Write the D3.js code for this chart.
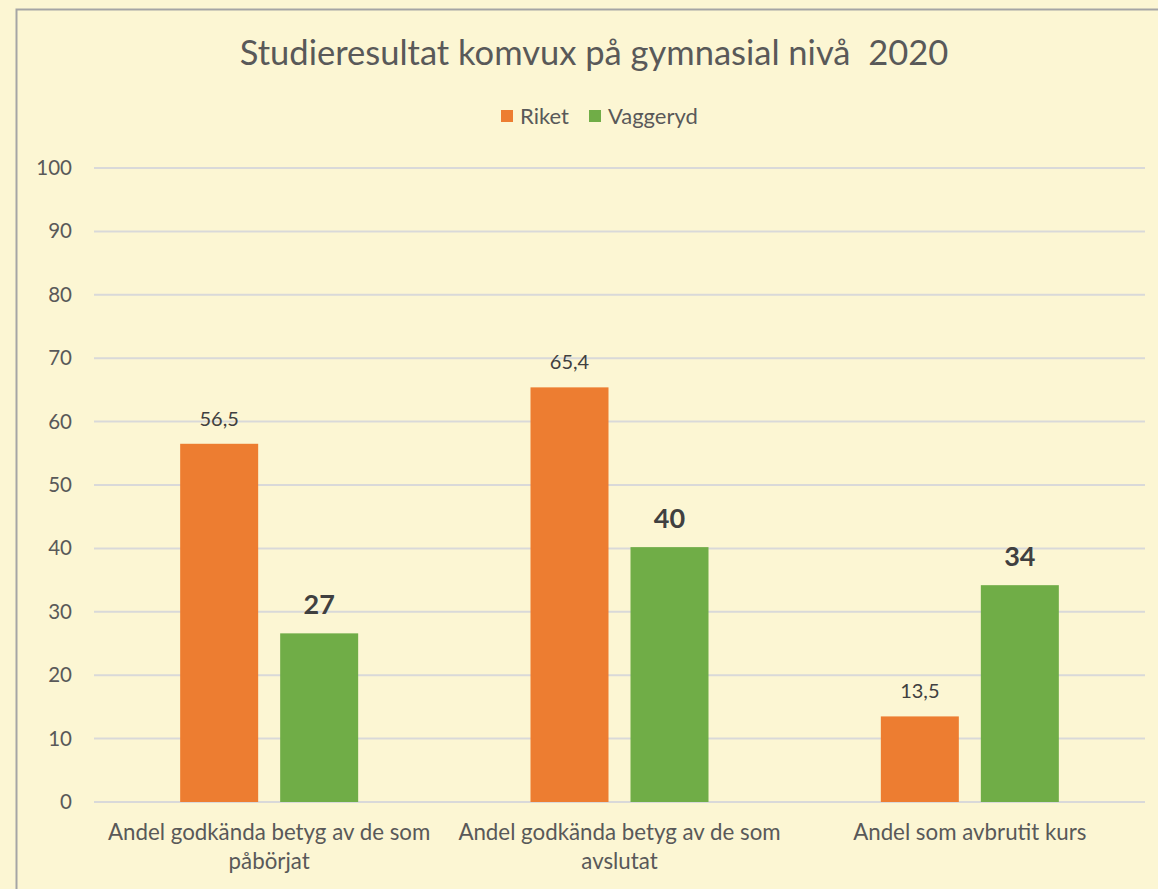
<!DOCTYPE html>
<html>
<head>
<meta charset="utf-8">
<script src="https://cdn.jsdelivr.net/npm/d3@7"></script>
<style>
  body { margin: 0; background: #fcf6d3; }
  svg { display: block; font-family: Lato, "Open Sans", sans-serif; }
</style>
</head>
<body>
<div id="chart"></div>
<script>

const categories = [
    ["Andel godkända betyg av de som", "påbörjat"],
    ["Andel godkända betyg av de som", "avslutat"],
    ["Andel som avbrutit kurs"]
];
const seriesNames = ["Riket", "Vaggeryd"];
const riket = [56.5, 65.4, 13.5];
const vaggeryd = [26.6, 40.2, 34.2];
const yTicks = [0, 10, 20, 30, 40, 50, 60, 70, 80, 90, 100];

const colors = {"Riket": "#ed7d31", "Vaggeryd": "#70ad47"};

var width = 1158, height = 889;
var margin = {top: 168, right: 13, bottom: 87, left: 94};

var svg = d3.select("#chart").append("svg")
    .attr("width", width)
    .attr("height", height);

svg.append("rect")
    .attr("width", width).attr("height", height)
    .attr("fill", "#fcf6d3");

// chart border
svg.append("rect")
    .attr("x", 16.5).attr("y", 9.5)
    .attr("width", width).attr("height", height)
    .attr("fill", "none")
    .attr("stroke", "#a5a5a5")
    .attr("stroke-width", 2);

svg.append("text")
    .attr("x", 594).attr("y", 65)
    .attr("text-anchor", "middle")
    .attr("font-size", 34.5)
    .attr("fill", "#595959")
    .style("white-space", "pre")
    .text("Studieresultat komvux på gymnasial nivå  2020");

var y = d3.scaleLinear()
    .domain([0, 100])
    .range([height - margin.bottom, margin.top]);

var x0 = d3.scaleBand()
    .domain(d3.range(categories.length))
    .range([margin.left, width - margin.right]);

var groupW = 178;
var x1 = d3.scaleBand()
    .domain(seriesNames)
    .range([(x0.bandwidth() - groupW) / 2, (x0.bandwidth() + groupW) / 2])
    .paddingInner(0.22);

// grid
svg.append("g")
    .selectAll("line")
    .data(yTicks)
    .enter().append("line")
    .attr("x1", margin.left)
    .attr("x2", width - margin.right)
    .attr("y1", d => y(d))
    .attr("y2", d => y(d))
    .attr("stroke", "#d9d9d9")
    .attr("stroke-width", 2);

var yAxis = svg.append("g")
    .attr("transform", "translate(" + 72 + ",0)")
    .call(d3.axisLeft(y).tickValues(yTicks).tickSize(0).tickPadding(0));
yAxis.select(".domain").remove();
yAxis.selectAll("text")
    .attr("font-size", 20.5)
    .attr("font-family", "Lato, sans-serif")
    .attr("fill", "#595959");

var rows = [];
categories.forEach(function (c, i) {
    rows.push({cat: i, name: "Riket", value: riket[i]});
    rows.push({cat: i, name: "Vaggeryd", value: vaggeryd[i]});
});

svg.append("g")
    .selectAll("rect")
    .data(rows)
    .enter().append("rect")
    .attr("x", d => x0(d.cat) + x1(d.name))
    .attr("width", x1.bandwidth())
    .attr("y", d => y(d.value))
    .attr("height", d => y(0) - y(d.value))
    .attr("fill", d => colors[d.name]);

// value labels
var fmtComma = d3.formatLocale({decimal: ",", thousands: " ", grouping: [3], currency: ["", ""]}).format(".1f");
svg.append("g")
    .selectAll("text")
    .data(rows)
    .enter().append("text")
    .attr("x", d => x0(d.cat) + x1(d.name) + x1.bandwidth() / 2)
    .attr("y", d => y(d.value) - (d.name === "Riket" ? 18 : 19))
    .attr("text-anchor", "middle")
    .attr("font-size", d => d.name === "Riket" ? 20 : 27)
    .attr("font-weight", d => d.name === "Riket" ? "normal" : "bold")
    .attr("fill", "#404040")
    .text(d => d.name === "Riket" ? fmtComma(d.value) : d3.format(".0f")(d.value));

// category labels
var catG = svg.append("g")
    .selectAll("text")
    .data(categories)
    .enter().append("text")
    .attr("text-anchor", "middle")
    .attr("font-size", 22.3)
    .attr("fill", "#595959");
catG.selectAll("tspan")
    .data((d, i) => d.map(t => ({t: t, i: i})))
    .enter().append("tspan")
    .attr("x", d => x0(d.i) + x0.bandwidth() / 2)
    .attr("y", (d, j) => 840 + j * 29)
    .text(d => d.t);

// legend
var legend = svg.append("g");
var legX = [501, 589];
seriesNames.forEach(function (s, i) {
    legend.append("rect")
        .attr("x", legX[i]).attr("y", 110)
        .attr("width", 12).attr("height", 12)
        .attr("fill", colors[s]);
    legend.append("text")
        .attr("x", legX[i] + 19).attr("y", 124)
        .attr("font-size", 22)
        .attr("fill", "#595959")
        .text(s);
});

</script>
</body>
</html>
